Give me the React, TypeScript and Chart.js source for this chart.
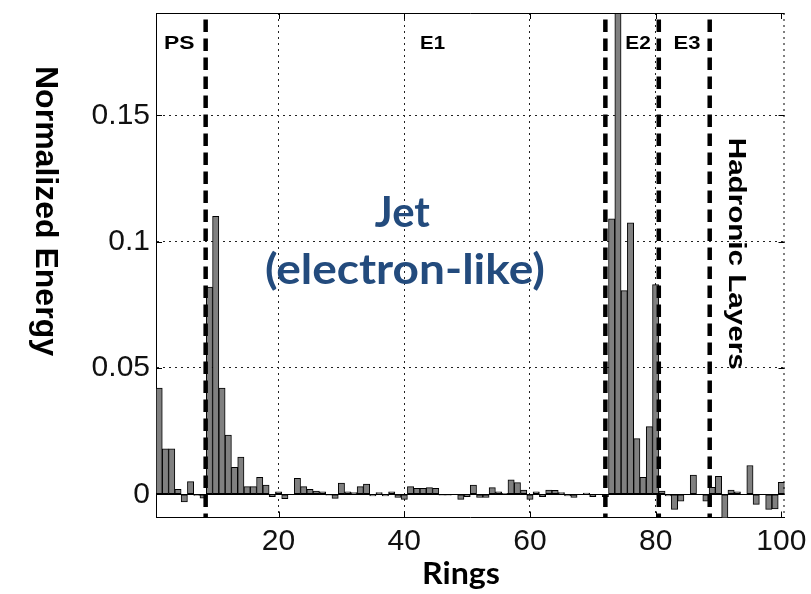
import React, { useEffect, useRef } from 'react';
import { Chart, registerables } from 'chart.js';

Chart.register(...registerables);

// Ring index (categories)
const rings: number[] = Array.from({ length: 100 }, (_, i) => i + 1);

// Normalized energy per ring
const energy: number[] = [
  0.042, 0.018, 0.018, 0.002, -0.003, 0.005, -0.0005, -0.0015, 0.082, 0.110,
  0.042, 0.0234, 0.0107, 0.0147, 0.003, 0.003, 0.0067, 0.0036, -0.001, 0.001,
  -0.0017, 0, 0.0063, 0.003, 0.002, 0.0013, 0.001, -0.0004, -0.0016, 0.0044,
  0.001, 0.0007, 0.003, 0.004, -0.0007, 0.0007, -0.0007, 0.001, -0.0013, -0.002,
  0.003, 0.0023, 0.0023, 0.0026, 0.0023, -0.0004, -0.0004, 0, -0.002, -0.001,
  0.0036, -0.0013, -0.0013, 0.0026, 0.001, 0.0004, 0.0057, 0.0046, 0.0017, -0.002,
  0.001, -0.001, 0.0017, 0.0016, 0.0007, -0.0007, -0.0013, 0, 0.0005, -0.001,
  0, -0.001, 0.109, 0.22, 0.0806, 0.1074, 0.022, 0.0067, 0.0268, 0.083,
  0.0013, -0.0007, -0.006, -0.0027, 0, 0.0076, 0, -0.0027, 0.0027, 0.0071,
  -0.015, 0.0017, 0.001, 0, 0.0114, -0.004, 0, -0.006, -0.0058, 0.0047,
];

const xTicks: number[] = [20, 40, 60, 80, 100];
const yTicks: number[] = [0, 0.05, 0.1, 0.15];

// Calorimeter layer boundaries (dashed lines)
const boundaries: number[] = [8.4, 72, 80.5, 88.6];
const layerNames: string[] = ['PS', 'E1', 'E2', 'E3'];
const layerNameX: number[] = [4.2, 44.5, 77.2, 85.0];

const X_MIN = 0.5;
const X_MAX = 100.5;
const Y_MIN = -0.0092;
const Y_MAX = 0.1905;

const ARIAL = "'Liberation Sans', Arial, sans-serif";
const CALIBRI = "Lato, 'Liberation Sans', sans-serif";
const BLUE = '#234b7d';

function fitText(
  ctx: CanvasRenderingContext2D,
  text: string,
  x: number,
  y: number,
  width: number,
  font: string,
  color: string,
  angle = 0
) {
  ctx.save();
  ctx.font = font;
  ctx.fillStyle = color;
  ctx.textAlign = 'center';
  ctx.textBaseline = 'alphabetic';
  ctx.translate(x, y);
  if (angle) ctx.rotate(angle);
  const w = ctx.measureText(text).width;
  ctx.scale(width / w, 1);
  ctx.fillText(text, 0, 0);
  ctx.restore();
}

const overlayPlugin = {
  id: 'overlay',
  afterDatasetsDraw(chart: any) {
    const { ctx, chartArea: a, scales } = chart;
    const x = scales.x;
    const y = scales.y;
    ctx.save();
    ctx.beginPath();
    ctx.rect(a.left, a.top, a.right - a.left, a.bottom - a.top);
    ctx.clip();
    // bar baseline
    const y0 = Math.round(y.getPixelForValue(0)) + 0.5;
    ctx.strokeStyle = '#000';
    ctx.lineWidth = 1;
    ctx.beginPath();
    ctx.moveTo(a.left, y0);
    ctx.lineTo(a.right, y0);
    ctx.stroke();
    // dashed boundaries
    ctx.setLineDash([12.5, 6.5]);
    ctx.lineDashOffset = 12.5;
    ctx.lineWidth = 4.5;
    boundaries.forEach((b) => {
      const px = x.getPixelForValue(b);
      ctx.beginPath();
      ctx.moveTo(px, a.top);
      ctx.lineTo(px, a.bottom);
      ctx.stroke();
    });
    ctx.restore();
  },
  afterDraw(chart: any) {
    const { ctx, chartArea: a, scales } = chart;
    const x = scales.x;
    const y = scales.y;
    ctx.save();
    // top border solid, right border dotted
    ctx.strokeStyle = '#000';
    ctx.lineWidth = 1;
    ctx.beginPath();
    ctx.moveTo(a.left, a.top + 0.5);
    ctx.lineTo(a.right, a.top + 0.5);
    ctx.stroke();
    ctx.setLineDash([2, 4]);
    ctx.beginPath();
    ctx.moveTo(a.right - 0.5, a.top);
    ctx.lineTo(a.right - 0.5, a.bottom);
    ctx.stroke();
    ctx.setLineDash([]);
    // inward tick marks
    const tl = 6;
    yTicks.forEach((v) => {
      const py = Math.round(y.getPixelForValue(v)) + 0.5;
      ctx.beginPath();
      ctx.moveTo(a.left, py);
      ctx.lineTo(a.left + tl, py);
      ctx.moveTo(a.right, py);
      ctx.lineTo(a.right - tl, py);
      ctx.stroke();
    });
    xTicks.forEach((v) => {
      const px = Math.round(x.getPixelForValue(v)) + 0.5;
      ctx.beginPath();
      ctx.moveTo(px, a.bottom);
      ctx.lineTo(px, a.bottom - tl);
      ctx.moveTo(px, a.top);
      ctx.lineTo(px, a.top + tl);
      ctx.stroke();
    });
    ctx.restore();

    // layer names
    const nameWidths = [30.5, 25, 25.5, 27];
    layerNames.forEach((n, i) => {
      fitText(ctx, n, x.getPixelForValue(layerNameX[i]), a.top + 36, nameWidths[i], `bold 19px ${ARIAL}`, '#000');
    });
    // Hadronic Layers (rotated, reading downward)
    fitText(ctx, 'Hadronic Layers', x.getPixelForValue(91.7), y.getPixelForValue(0.0952), 232, `bold 23px ${ARIAL}`, '#000', Math.PI / 2);
    // Jet annotation
    fitText(ctx, 'Jet', x.getPixelForValue(39.7), y.getPixelForValue(0.1059), 55, `bold 42px ${CALIBRI}`, BLUE);
    fitText(ctx, '(electron-like)', x.getPixelForValue(40.1), y.getPixelForValue(0.0833), 280, `bold 42px ${CALIBRI}`, BLUE);
    // axis titles
    fitText(ctx, 'Normalized Energy', 36, 211, 290, `bold 31px ${ARIAL}`, '#000', Math.PI / 2);
    fitText(ctx, 'Rings', 461, 584, 78, `bold 30px ${CALIBRI}`, '#000');
  },
};

export default function App() {
  const canvasRef = useRef<HTMLCanvasElement | null>(null);

  useEffect(() => {
    const canvas = canvasRef.current;
    if (!canvas) return;
    const chart = new Chart(canvas, {
      type: 'bar',
      data: {
        datasets: [
          {
            data: rings.map((r, i) => ({ x: r, y: energy[i] })),
            backgroundColor: '#808080',
            borderColor: '#000',
            borderWidth: 1,
            borderSkipped: false,
            barPercentage: 1,
            categoryPercentage: 1,
            clip: 0,
          } as any,
        ],
      },
      options: {
        animation: false,
        responsive: false,
        devicePixelRatio: 1,
        layout: { padding: { top: 13, right: 26.5, left: 0, bottom: 0 } },
        plugins: {
          legend: { display: false },
          tooltip: { enabled: false },
          title: { display: false },
        },
        scales: {
          x: {
            type: 'linear',
            min: X_MIN,
            max: X_MAX,
            offset: false,
            afterBuildTicks: (s: any) => {
              s.ticks = xTicks.map((v) => ({ value: v }));
            },
            afterFit: (s: any) => {
              s.height = 76.5;
              s.paddingLeft = 0;
              s.paddingRight = 0;
            },
            grid: {
              offset: false,
              drawTicks: false,
              color: (c: any) => (c.tick && c.tick.value === 100 ? 'rgba(0,0,0,0)' : '#222'),
              lineWidth: 1,
            },
            border: { display: true, color: '#000', width: 1, dash: [2, 4] },
            ticks: {
              padding: 6,
              maxRotation: 0,
              autoSkip: false,
              color: '#111',
              font: { family: ARIAL, size: 30 },
              callback: (v: any) => String(v),
            },
          },
          y: {
            type: 'linear',
            min: Y_MIN,
            max: Y_MAX,
            afterBuildTicks: (s: any) => {
              s.ticks = yTicks.map((v) => ({ value: v }));
            },
            afterFit: (s: any) => {
              s.width = 156;
              s.paddingTop = 0;
              s.paddingBottom = 0;
            },
            grid: { drawTicks: false, color: '#222', lineWidth: 1 },
            border: { display: true, color: '#000', width: 1, dash: [2, 4] },
            ticks: {
              padding: 6,
              autoSkip: false,
              color: '#111',
              font: { family: ARIAL, size: 30 },
              callback: (v: any) => String(v),
            },
          },
        },
      } as any,
      plugins: [overlayPlugin],
    });
    return () => chart.destroy();
  }, []);

  return (
    <div style={{ position: 'absolute', left: 0, top: 0, width: 811, height: 594, background: '#fff' }}>
      <canvas ref={canvasRef} width={811} height={594} style={{ display: 'block' }} />
    </div>
  );
}
